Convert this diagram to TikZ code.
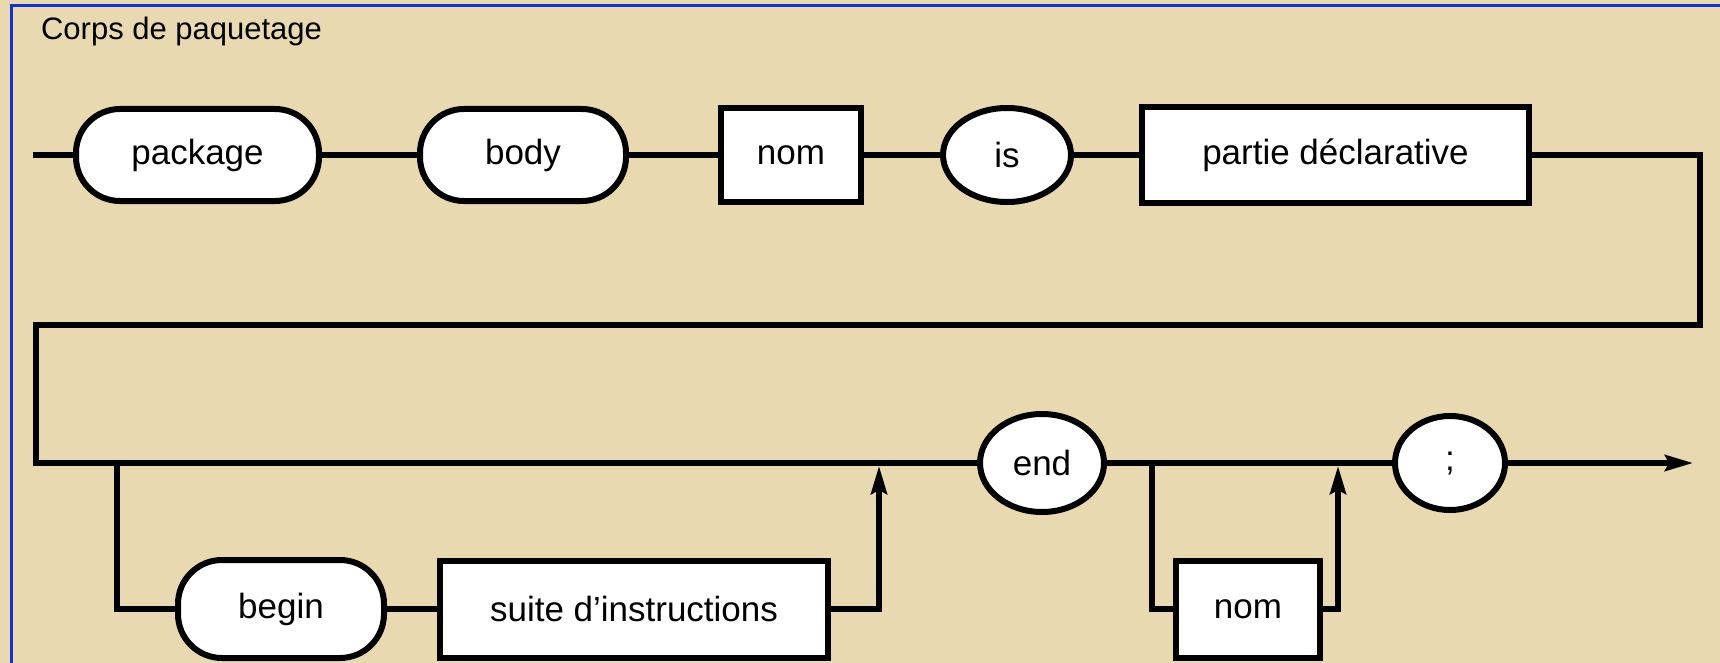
\documentclass[tikz,border=0pt]{standalone}
\usepackage{fontspec}
\setmainfont{Liberation Sans}
\usetikzlibrary{positioning,shapes.geometric,arrows.meta}
\definecolor{parchemin}{RGB}{233,217,176}
\definecolor{cadre}{RGB}{20,50,205}
\tikzstyle{texte} = [font=\fontsize{35}{40}\selectfont, inner sep=0pt, outer sep=0pt]
\tikzstyle{motcle} = [texte, rectangle, rounded corners=44pt, draw, fill=white, line width=6pt, minimum height=92pt]
\tikzstyle{regle} = [texte, rectangle, draw, fill=white, line width=6pt, minimum height=94pt]
\tikzstyle{signe} = [texte, ellipse, draw, fill=white, line width=6pt]

\begin{document}
\begin{tikzpicture}[x=1pt,y=-1pt,>={Stealth[length=28pt,width=16pt,inset=4pt]},line width=5.5pt]
  \useasboundingbox (0,0) rectangle (1720,663);
  \fill[parchemin] (0,0) rectangle (1720,663);
  \draw[cadre, line width=3pt] (11.5,5.5) rectangle (1760,700);

  \node[anchor=base west, font=\fontsize{31}{36}\selectfont] (titre) at (35,40) {Corps de paquetage};

  % premiere ligne
  \node[motcle, minimum width=243pt] (package) at (197.5,155) {package};
  \node[motcle, minimum width=206pt] (body) [right=101pt of package] {body};
  \node[regle, minimum width=140pt] (nom) [right=95pt of body] {nom};
  \node[signe, minimum width=128pt, minimum height=94pt] (is) [right=82pt of nom] {is};
  \node[regle, minimum width=387pt, minimum height=96pt] (partie) [right=71pt of is] {partie déclarative};

  % ligne du bas
  \node[signe, minimum width=124pt, minimum height=98pt] (fin) at (1042,463) {end};
  \node[signe, minimum width=110pt, minimum height=94pt] (pvirg) [right=291pt of fin] {;};
  \node[motcle, minimum width=206pt, minimum height=98pt] (debut) at (281,609) {begin};
  \node[regle, minimum width=388pt, minimum height=97pt] (suite) [right=56pt of debut] {suite d’instructions};
  \node[regle, minimum width=144pt, minimum height=97pt] (nomfin) at (1248,609) {nom};

  \coordinate (entree) at (33,155);
  \coordinate (coudeD) at (1700,155);
  \coordinate (coudeG) at (36,325);
  \coordinate (sortie) at (1693,463);
  \coordinate (bif1) at (117,463);
  \coordinate (ret1) at (879,466);
  \coordinate (bif2) at (1152,463);
  \coordinate (ret2) at (1338,466);

  \path (entree) edge (package);
  \path (package) edge (body);
  \path (body) edge (nom);
  \path (nom) edge (is);
  \path (is) edge (partie);
  \draw (partie) -- (coudeD) |- (coudeG) |- (fin);
  \path (fin) edge (pvirg);
  \path[->] (pvirg) edge (sortie);

  \draw (bif1) |- (debut);
  \path (debut) edge (suite);
  \draw[->] (suite) -| (ret1);
  \draw (bif2) |- (nomfin);
  \draw[->] (nomfin) -| (ret2);
\end{tikzpicture}
\end{document}
